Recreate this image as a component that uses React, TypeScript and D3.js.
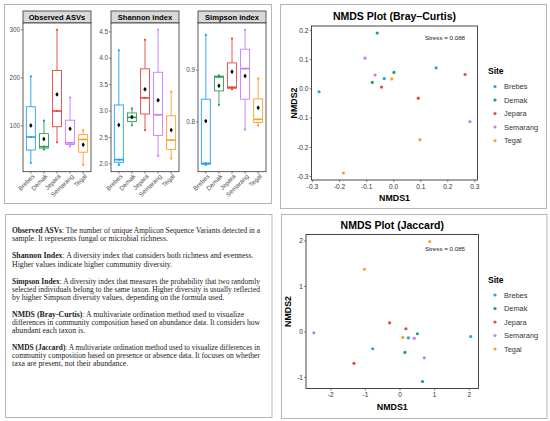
import { useEffect, useRef } from "react";
import * as d3 from "d3";

const sites = ["Brebes", "Demak", "Jepara", "Semarang", "Tegal"];
const siteColors = ["#1fa0f2", "#2a9d55", "#e8473f", "#c77cff", "#f9a12e"];

// three samples per site (min, median, max)
const asvSamples = [[23, 77, 203], [51, 57, 111], [66, 131, 300], [58, 65, 159], [19, 72, 92]];
const shannonSamples = [[1.98, 2.08, 4.15], [2.73, 2.88, 3.05], [2.64, 3.25, 4.35], [2.15, 2.93, 4.54], [2.1, 2.45, 3.37]];
const simpsonSamples = [[0.717, 0.72, 0.968], [0.833, 0.887, 0.89], [0.863, 0.867, 0.961], [0.785, 0.903, 0.978], [0.793, 0.805, 0.884]];
const asvTicks = [100, 200, 300];
const shannonTicks = [2.0, 2.5, 3.0, 3.5, 4.0, 4.5];
const simpsonTicks = [0.8, 0.9];

// NMDS scores, one array per site
const brayNmds1 = [[-0.276, -0.035, 0.157], [-0.061, -0.079, 0.001], [-0.045, 0.091, 0.264], [-0.106, -0.069, 0.282], [-0.007, 0.097, -0.186]];
const brayNmds2 = [[-0.01, 0.035, 0.072], [0.191, 0.022, 0.056], [0.006, -0.032, 0.049], [0.105, 0.047, -0.112], [0.034, -0.174, -0.288]];
const brayXTicks = [-0.3, -0.2, -0.1, 0.0, 0.1, 0.2, 0.3];
const brayYTicks = [-0.3, -0.2, -0.1, 0.0, 0.1, 0.2];
const jacNmds1 = [[-0.79, 0.24, 2.04], [0.14, 0.5, 0.65], [-1.33, -0.3, 0.17], [-2.49, 0.41, 0.7], [-1.03, 0.86, 0.08]];
const jacNmds2 = [[-0.37, -0.13, -0.1], [-0.45, -0.04, -1.09], [-0.69, 0.2, 0.07], [-0.02, -0.14, -0.57], [1.38, 1.99, -0.12]];
const jacXTicks = [-2, -1, 0, 1, 2];
const jacYTicks = [-1, 0, 1, 2];

const notes = [
  { term: "Observed ASVs", lines: [": The number of unique Amplicon Sequence Variants detected in a", "sample. It represents fungal or microbial richness."] },
  { term: "Shannon Index", lines: [": A diversity index that considers both richness and evenness.", "Higher values indicate higher community diversity."] },
  { term: "Simpson Index", lines: [": A diversity index that measures the probability that two randomly", "selected individuals belong to the same taxon. Higher diversity is usually reflected", "by higher Simpson diversity values, depending on the formula used."] },
  { term: "NMDS (Bray-Curtis)", lines: [": A multivariate ordination method used to visualize", "differences in community composition based on abundance data. It considers how", "abundant each taxon is."] },
  { term: "NMDS (Jaccard)", lines: [": A multivariate ordination method used to visualize differences in", "community composition based on presence or absence data. It focuses on whether", "taxa are present, not their abundance."] },
];

const SANS = "'Liberation Sans', Arial, sans-serif";
const fmtMinus = (f) => (v) => f(v).replace("−", "-");
const diamond = d3.symbol().type(d3.symbolDiamond).size(7)();

const expand = (vals) => {
  const [lo, hi] = d3.extent(vals);
  const pad = (hi - lo) * 0.05;
  return [lo - pad, hi + pad];
};

function BoxFacet({ left, title, samples, ticks, fmt }) {
  const top = 23, bottom = 171.7, width = 68;
  const x = d3.scaleBand().domain(sites).range([left, left + width]).paddingOuter(0.1);
  const cx = (s) => x(s) + x.bandwidth() / 2;
  const y = d3.scaleLinear().domain(expand(samples.flat())).range([bottom, top]);
  const bw = 9;
  return (
    <g fontFamily={SANS}>
      <rect x={left} y={11} width={width} height={12} fill="#d9d9d9" stroke="#333" strokeWidth={0.8} />
      <text x={left + width / 2} y={20} textAnchor="middle" fontSize={7.6} fontWeight="bold">{title}</text>
      <rect x={left} y={top} width={width} height={bottom - top} fill="white" stroke="#333" strokeWidth={0.8} />
      {ticks.map((t) => (
        <g key={t}>
          <line x1={left - 2} x2={left} y1={y(t)} y2={y(t)} stroke="#333" strokeWidth={0.6} />
          <text x={left - 3} y={y(t)} dy="0.35em" textAnchor="end" fontSize={6.3} fill="#4d4d4d">{fmt(t)}</text>
        </g>
      ))}
      {samples.map((vals, i) => {
        const s = [...vals].sort(d3.ascending);
        const q1 = d3.quantile(s, 0.25), med = d3.quantile(s, 0.5), q3 = d3.quantile(s, 0.75);
        const c = cx(sites[i]);
        const col = siteColors[i];
        return (
          <g key={sites[i]}>
            <line x1={c} x2={c} y1={y(s[0])} y2={y(q1)} stroke={col} strokeWidth={0.9} />
            <line x1={c} x2={c} y1={y(q3)} y2={y(s[2])} stroke={col} strokeWidth={0.9} />
            <rect x={c - bw / 2} y={y(q3)} width={bw} height={y(q1) - y(q3)} fill="white" stroke={col} strokeWidth={0.9} />
            <line x1={c - bw / 2} x2={c + bw / 2} y1={y(med)} y2={y(med)} stroke={col} strokeWidth={1.6} />
            {s.map((v, j) => <circle key={j} cx={c} cy={y(v)} r={1.1} fill={col} />)}
            <circle cx={c} cy={y(d3.mean(s))} r={1.3} fill="black" />
            <path d={diamond} transform={`translate(${c},${y(d3.mean(s))})`} fill="black" />
          </g>
        );
      })}
      {sites.map((s) => (
        <g key={s}>
          <line x1={cx(s)} x2={cx(s)} y1={bottom} y2={bottom + 2} stroke="#333" strokeWidth={0.6} />
          <text transform={`translate(${cx(s) + 2.5},${bottom + 3.5}) rotate(-45)`} textAnchor="end" dy="0.35em" fontSize={6.3} fill="#4d4d4d">{s}</text>
        </g>
      ))}
    </g>
  );
}

function NmdsPlot({ top, title, xs, ys, xTicks, yTicks, xFmt, yFmt, stress, stressLabel, frame }) {
  const left = frame.left, right = frame.right, pTop = top + 22, pBottom = top + 176;
  const x = d3.scaleLinear().domain(expand(xs.flat())).range([left, right]);
  const y = d3.scaleLinear().domain(expand(ys.flat())).range([pBottom, pTop]);
  return (
    <g fontFamily={SANS}>
      <text x={(left + right) / 2} y={top + 16} textAnchor="middle" fontSize={10.5} fontWeight="bold">{title}</text>
      <rect x={left} y={pTop} width={right - left} height={pBottom - pTop} fill="white" stroke="#333" strokeWidth={0.9} />
      {xTicks.map((t) => (
        <g key={t}>
          <line x1={x(t)} x2={x(t)} y1={pBottom} y2={pBottom + 2} stroke="#333" strokeWidth={0.6} />
          <text x={x(t)} y={pBottom + 8.5} textAnchor="middle" fontSize={6.6} fill="#333">{xFmt(t)}</text>
        </g>
      ))}
      {yTicks.map((t) => (
        <g key={t}>
          <line x1={left - 2} x2={left} y1={y(t)} y2={y(t)} stroke="#333" strokeWidth={0.6} />
          <text x={left - 3} y={y(t)} dy="0.35em" textAnchor="end" fontSize={6.6} fill="#333">{yFmt(t)}</text>
        </g>
      ))}
      <text x={(left + right) / 2} y={pBottom + 21} textAnchor="middle" fontSize={8.8} fontWeight="bold">NMDS1</text>
      <text transform={`translate(${left - 15},${(pTop + pBottom) / 2}) rotate(-90)`} textAnchor="middle" fontSize={8.8} fontWeight="bold">NMDS2</text>
      {xs.map((arr, i) => arr.map((v, j) => (
        <circle key={`${i}-${j}`} cx={x(v)} cy={y(ys[i][j])} r={1.6} fill={siteColors[i]} />
      )))}
      <text x={445} y={top + stress} dy="0.35em" textAnchor="middle" fontSize={6.2} fill="#222">{stressLabel}</text>
      <text x={488} y={top + 67.5} dy="0.35em" fontSize={8.5} fontWeight="bold">Site</text>
      {sites.map((s, i) => (
        <g key={s}>
          <circle cx={495} cy={top + 82.5 + i * 13.5} r={1.6} fill={siteColors[i]} />
          <text x={504} y={top + 82.5 + i * 13.5} dy="0.35em" fontSize={7.4} fill="#333">{s}</text>
        </g>
      ))}
    </g>
  );
}

function TextPanel() {
  const ref = useRef(null);
  // keep the long lines inside the box, like the wrapped paragraph in the figure
  useEffect(() => {
    d3.select(ref.current).selectAll("text").each(function () {
      if (this.getComputedTextLength() > 248) {
        d3.select(this).attr("textLength", 248).attr("lengthAdjust", "spacingAndGlyphs");
      }
    });
  }, []);
  let yPos = 233.2;
  const rows = [];
  notes.forEach((n, i) => {
    n.lines.forEach((ln, j) => {
      rows.push(
        <text key={`${i}-${j}`} x={12} y={yPos} fontSize={7.8} fill="#222" fontFamily="'Liberation Serif', 'Times New Roman', serif">
          {j === 0 && <tspan fontWeight="bold">{n.term}</tspan>}
          {ln}
        </text>
      );
      yPos += 8.1;
    });
    yPos += 9;
  });
  return <g ref={ref}>{rows}</g>;
}

export default function App() {
  return (
    <svg width={550} height={421} style={{ position: "absolute", left: 0, top: 0, background: "white" }}>
      <rect x={4.5} y={4.5} width={267} height={199} fill="white" stroke="#b5b5b5" />
      <rect x={5.5} y={214.5} width={266.5} height={203} fill="white" stroke="#b5b5b5" />
      <rect x={280.5} y={4.5} width={266} height={204} fill="white" stroke="#b5b5b5" />
      <rect x={281.5} y={214.5} width={265.5} height={204} fill="white" stroke="#b5b5b5" />
      <BoxFacet left={23} title="Observed ASVs" samples={asvSamples} ticks={asvTicks} fmt={d3.format("d")} />
      <BoxFacet left={111} title="Shannon index" samples={shannonSamples} ticks={shannonTicks} fmt={d3.format(".1f")} />
      <BoxFacet left={198} title="Simpson index" samples={simpsonSamples} ticks={simpsonTicks} fmt={d3.format(".1f")} />
      <TextPanel />
      <NmdsPlot top={4} title="NMDS Plot (Bray–Curtis)" xs={brayNmds1} ys={brayNmds2} xTicks={brayXTicks} yTicks={brayYTicks}
        xFmt={fmtMinus(d3.format(".1f"))} yFmt={fmtMinus(d3.format(".1f"))} stress={34.3} stressLabel="Stress = 0.088" frame={{ left: 311.5, right: 477.5 }} />
      <NmdsPlot top={212.5} title="NMDS Plot (Jaccard)" xs={jacNmds1} ys={jacNmds2} xTicks={jacXTicks} yTicks={jacYTicks}
        xFmt={fmtMinus(d3.format("d"))} yFmt={fmtMinus(d3.format("d"))} stress={36.8} stressLabel="Stress = 0.085" frame={{ left: 306, right: 478.5 }} />
    </svg>
  );
}
